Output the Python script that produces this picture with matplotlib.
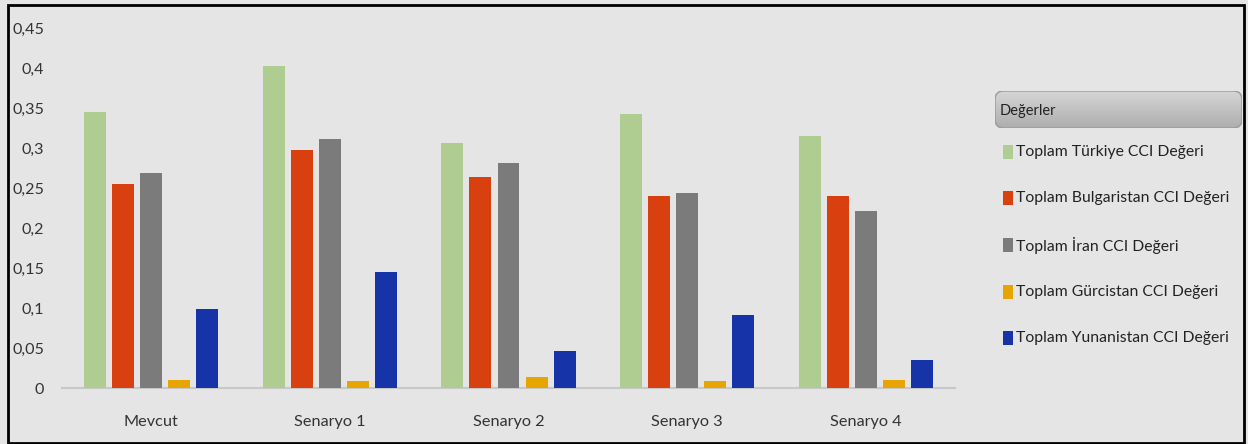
import matplotlib
matplotlib.use("Agg")
import matplotlib.pyplot as plt
from matplotlib.patches import Rectangle, FancyBboxPatch
import numpy as np

plt.rcParams['font.family'] = ['Lato', 'DejaVu Sans']

categories = ["Mevcut", "Senaryo 1", "Senaryo 2", "Senaryo 3", "Senaryo 4"]
series_names = ["Toplam Türkiye CCI Değeri", "Toplam Bulgaristan CCI Değeri",
                "Toplam İran CCI Değeri", "Toplam Gürcistan CCI Değeri",
                "Toplam Yunanistan CCI Değeri"]
turkiye = [0.345, 0.403, 0.306, 0.343, 0.315]
bulgaristan = [0.255, 0.298, 0.264, 0.240, 0.240]
iran = [0.269, 0.311, 0.282, 0.244, 0.222]
gurcistan = [0.011, 0.009, 0.014, 0.009, 0.011]
yunanistan = [0.099, 0.146, 0.047, 0.092, 0.036]
yticks = [0, 0.05, 0.1, 0.15, 0.2, 0.25, 0.3, 0.35, 0.4, 0.45]
ytick_labels = ["0", "0,05", "0,1", "0,15", "0,2", "0,25", "0,3", "0,35", "0,4", "0,45"]
legend_title = "Değerler"

colors = ["#afcd90", "#d9400f", "#7b7b7b", "#e6a500", "#1733a8"]
series = [turkiye, bulgaristan, iran, gurcistan, yunanistan]

W, H = 1248, 444
fig = plt.figure(figsize=(W/100, H/100), dpi=100)
fig.patch.set_facecolor("#e5e5e5")

x0, x1 = 62, 955
y0, y1 = 388.3, 28.3
ax = fig.add_axes([x0/W, (H-y0)/H, (x1-x0)/W, (y0-y1)/H])
ax.set_facecolor("#e5e5e5")

x = np.arange(len(categories))
pitch = 0.157
width = 0.123
handles = []
for i, (vals, c) in enumerate(zip(series, colors)):
    h = ax.bar(x + (i-2)*pitch, vals, width, color=c, label=series_names[i], zorder=3)
    handles.append(h)

ax.set_xlim(-0.5, 4.5)
ax.set_ylim(0, 0.45)
ax.set_yticks(yticks)
ax.set_yticklabels(ytick_labels, fontsize=11.6, color="#333333")
ax.set_xticks(x)
ax.set_xticklabels(categories, fontsize=11.7, color="#333333")
ax.tick_params(axis='both', length=0)
ax.tick_params(axis='y', pad=13)
ax.tick_params(axis='x', pad=19)
for s in ["top", "right", "left"]:
    ax.spines[s].set_visible(False)
ax.spines["bottom"].set_color("#c8c8c8")
ax.spines["bottom"].set_linewidth(1.5)

# legend header with gradient
hx0, hx1, hy0, hy1 = 995, 1242, 91, 128
hax = fig.add_axes([hx0/W, (H-hy1)/H, (hx1-hx0)/W, (hy1-hy0)/H])
hax.set_axis_off()
hax.set_xlim(0, 1)
hax.set_ylim(0, 1)
grad = np.linspace(0.68, 0.84, 64).reshape(-1, 1)
hdr = FancyBboxPatch((0, 0), 1, 1, boxstyle="round,pad=0,rounding_size=0.035",
                     mutation_aspect=(hx1-hx0)/(hy1-hy0),
                     facecolor="none", edgecolor="#9a9a9a", linewidth=1,
                     transform=hax.transAxes, zorder=3)
hax.add_patch(hdr)
im = hax.imshow(grad, cmap="gray", vmin=0, vmax=1, extent=(0, 1, 0, 1),
                aspect="auto", origin="lower", zorder=1)
im.set_clip_path(hdr)
hax.text(5/(hx1-hx0), 0.47, legend_title, fontsize=10.5, va="center", ha="left",
         color="#222222", transform=hax.transAxes, zorder=4)

# legend entries
row_y = [151.7, 198.3, 245.0, 291.7, 338.3]
for name, c, ry in zip(series_names, colors, row_y):
    fig.patches.append(Rectangle((1003/W, (H-ry-7)/H), 10/W, 14/H,
                                 transform=fig.transFigure, facecolor=c,
                                 edgecolor="none"))
    fig.text(1016/W, (H-ry)/H, name, fontsize=11.3, va="center", ha="left",
             color="#222222")

border = Rectangle((8/W, 1/H), (1244-8)/W, 438/H, transform=fig.transFigure,
                   fill=False, edgecolor="black", linewidth=2)
fig.patches.append(border)

fig.savefig("out.png", dpi=100, facecolor=fig.get_facecolor())
